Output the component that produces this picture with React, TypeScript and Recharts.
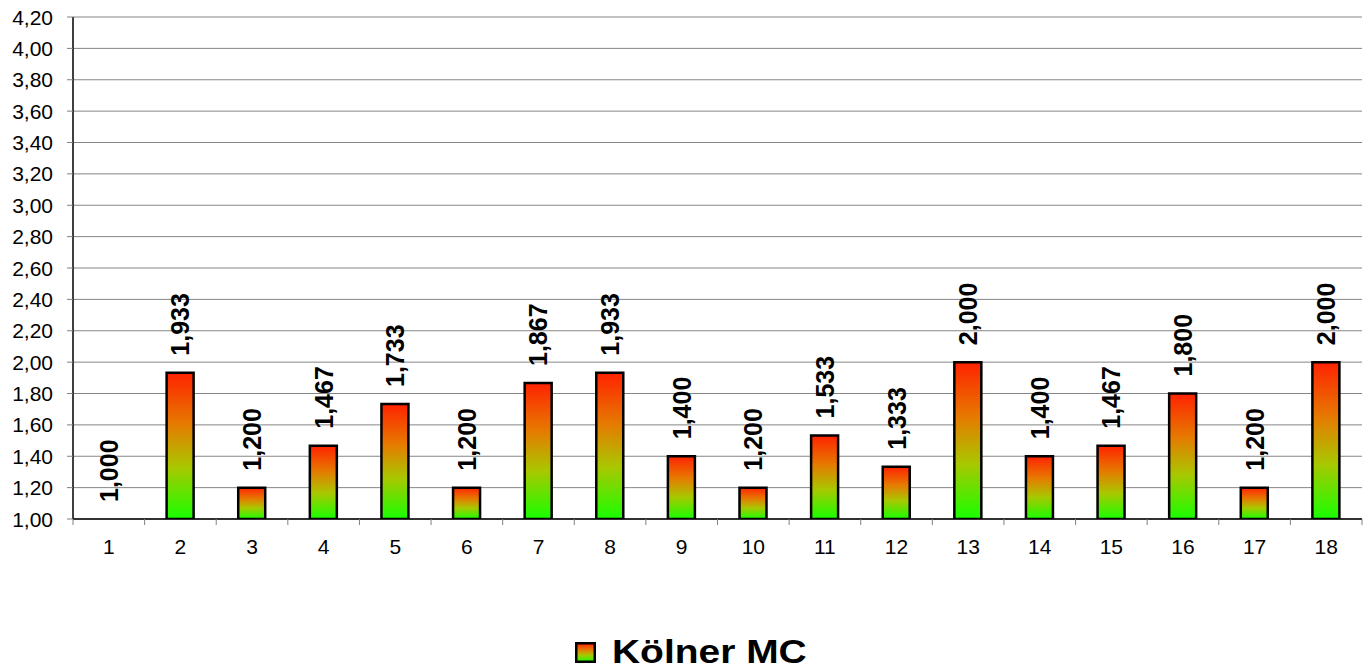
import { ComposedChart, Bar, Line, XAxis, YAxis, CartesianGrid, LabelList } from 'recharts';

// --- Data ---
const categories = ['1', '2', '3', '4', '5', '6', '7', '8', '9', '10', '11', '12', '13', '14', '15', '16', '17', '18'];
const koelnerMC = [1.0, 1.933, 1.2, 1.467, 1.733, 1.2, 1.867, 1.933, 1.4, 1.2, 1.533, 1.333, 2.0, 1.4, 1.467, 1.8, 1.2, 2.0];
const yTicks = [1.0, 1.2, 1.4, 1.6, 1.8, 2.0, 2.2, 2.4, 2.6, 2.8, 3.0, 3.2, 3.4, 3.6, 3.8, 4.0, 4.2];
const seriesName = 'Kölner MC';

const data = categories.map((name, i) => ({ name, value: koelnerMC[i] }));

// --- Layout ---
const W = 1369;
const H = 560;
const MARGIN = { top: 17, right: 7, left: 0, bottom: 0 };
const Y_AXIS_W = 73;
const PLOT_W = W - MARGIN.left - MARGIN.right - Y_AXIS_W;
const BAND = PLOT_W / categories.length;
const FONT = '"Liberation Sans", Arial, sans-serif';

const de = (v: number, d: number) => v.toFixed(d).replace('.', ',');

function XTick(props: any) {
    const { x, y, payload, index } = props;
    const left = x - BAND / 2;
    const right = x + BAND / 2;
    return (
        <g>
            <line x1={left} y1={y} x2={left} y2={y + 6} stroke="#808080" strokeWidth={1} />
            {index === categories.length - 1 && (
                <line x1={right} y1={y} x2={right} y2={y + 6} stroke="#808080" strokeWidth={1} />
            )}
            <text x={x} y={y + 27} textAnchor="middle" dominantBaseline="central"
                fontFamily={FONT} fontSize={21} fill="#000">
                {payload.value}
            </text>
        </g>
    );
}

function YTick(props: any) {
    const { x, y, payload } = props;
    return (
        <text x={x} y={y} textAnchor="end" dominantBaseline="central"
            fontFamily={FONT} fontSize={21} fill="#000">
            {de(Number(payload.value), 2)}
        </text>
    );
}

// labels hang off an invisible line so the zero-height first bar still gets one
function ValueLabel(props: any) {
    const { x, y, value } = props;
    const ty = y - 17;
    return (
        <text x={x} y={ty} transform={`rotate(-90 ${x} ${ty})`} textAnchor="start"
            dominantBaseline="central" fontFamily={FONT} fontSize={25} fontWeight="bold" fill="#000">
            {de(Number(value), 3)}
        </text>
    );
}

function GradientStops() {
    return (
        <>
            <stop offset="0%" stopColor="#ff2200" />
            <stop offset="35%" stopColor="#e67a00" />
            <stop offset="65%" stopColor="#a8c800" />
            <stop offset="100%" stopColor="#18ff00" />
        </>
    );
}

export default function App() {
    return (
        <div style={{ position: 'absolute', left: 0, top: 0, width: W, height: 671, background: '#fff' }}>
            <ComposedChart width={W} height={H} data={data} margin={MARGIN} barCategoryGap={0}>
                <defs>
                    <linearGradient id="redGreen" x1="0" y1="0" x2="0" y2="1">
                        <GradientStops />
                    </linearGradient>
                </defs>
                <CartesianGrid vertical={false} stroke="#868686" strokeWidth={1} />
                <XAxis
                    dataKey="name"
                    height={41}
                    axisLine={{ stroke: '#000', strokeWidth: 1.5 }}
                    tickLine={false}
                    tickSize={0}
                    tickMargin={0}
                    interval={0}
                    tick={<XTick />}
                />
                <YAxis
                    width={Y_AXIS_W}
                    domain={[1, 4.2]}
                    ticks={yTicks}
                    interval={0}
                    allowDataOverflow
                    axisLine={{ stroke: '#000', strokeWidth: 1.5 }}
                    tickLine={{ stroke: '#808080' }}
                    tickSize={6}
                    tickMargin={14}
                    tick={<YTick />}
                />
                <Bar
                    dataKey="value"
                    name={seriesName}
                    fill="url(#redGreen)"
                    stroke="#000"
                    strokeWidth={2.5}
                    barSize={27}
                    isAnimationActive={false}
                />
                <Line
                    dataKey="value"
                    stroke="none"
                    dot={false}
                    activeDot={false}
                    legendType="none"
                    isAnimationActive={false}
                >
                    <LabelList dataKey="value" content={<ValueLabel />} />
                </Line>
            </ComposedChart>
            {/* legend: glyphs in the original are a little wider than Arial, so stretch slightly */}
            <div style={{
                position: 'absolute', left: 575, top: 631, height: 42,
                display: 'flex', alignItems: 'center',
                fontFamily: FONT, fontWeight: 'bold', fontSize: 33, color: '#000'
            }}>
                <svg width={21} height={21} style={{ marginRight: 16 }}>
                    <defs>
                        <linearGradient id="legendRG" x1="0" y1="0" x2="0" y2="1">
                            <GradientStops />
                        </linearGradient>
                    </defs>
                    <rect x={1.25} y={1.25} width={18.5} height={18.5} fill="url(#legendRG)" stroke="#000" strokeWidth={2.5} />
                </svg>
                <span style={{ display: 'inline-block', transform: 'scaleX(1.18)', transformOrigin: 'left center' }}>
                    {seriesName}
                </span>
            </div>
        </div>
    );
}
